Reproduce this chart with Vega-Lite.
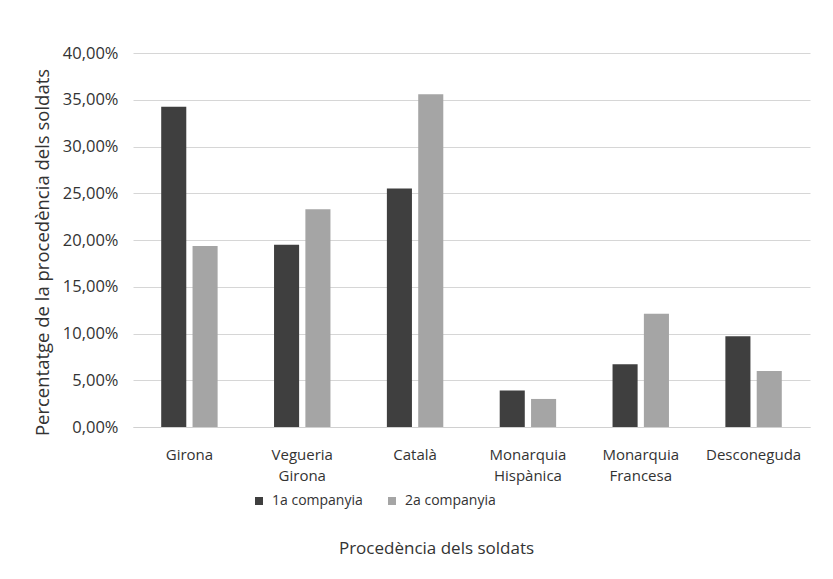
{
  "$schema": "https://vega.github.io/schema/vega-lite/v6.json",
  "autosize": {"type": "none"},
  "width": 677,
  "height": 374,
  "padding": {"left": 133, "top": 53, "right": 23, "bottom": 152},
  "background": "white",
  "config": {
    "font": "Open Sans",
    "view": {"stroke": null}
  },
  "data": {
    "values": [
      {"origen": "Girona", "companyia": "1a companyia", "pct": 0.3426},
      {"origen": "Girona", "companyia": "2a companyia", "pct": 0.1936},
      {"origen": "Vegueria Girona", "companyia": "1a companyia", "pct": 0.1950},
      {"origen": "Vegueria Girona", "companyia": "2a companyia", "pct": 0.2330},
      {"origen": "Català", "companyia": "1a companyia", "pct": 0.2550},
      {"origen": "Català", "companyia": "2a companyia", "pct": 0.3560},
      {"origen": "Monarquia Hispànica", "companyia": "1a companyia", "pct": 0.0390},
      {"origen": "Monarquia Hispànica", "companyia": "2a companyia", "pct": 0.0300},
      {"origen": "Monarquia Francesa", "companyia": "1a companyia", "pct": 0.0670},
      {"origen": "Monarquia Francesa", "companyia": "2a companyia", "pct": 0.1210},
      {"origen": "Desconeguda", "companyia": "1a companyia", "pct": 0.0970},
      {"origen": "Desconeguda", "companyia": "2a companyia", "pct": 0.0600}
    ]
  },
  "mark": {"type": "bar"},
  "encoding": {
    "x": {
      "field": "origen",
      "type": "nominal",
      "sort": null,
      "scale": {"paddingInner": 0.5, "paddingOuter": 0.25},
      "axis": {
        "title": "Procedència dels soldats",
        "titleFontSize": 17,
        "titleFontWeight": "normal",
        "titleColor": "#333333",
        "titleX": 303,
        "titleY": 113,
        "titleAnchor": "middle",
        "titleAlign": "center",
        "labelAngle": 0,
        "labelFontSize": 15,
        "labelColor": "#333333",
        "labelPadding": 20,
        "labelLineHeight": 21,
        "labelExpr": "split(datum.label, ' ')",
        "ticks": false,
        "domainColor": "#d0d0d0",
        "domainWidth": 1,
        "grid": false
      }
    },
    "xOffset": {
      "field": "companyia",
      "type": "nominal",
      "scale": {"paddingInner": 0.2, "paddingOuter": 0}
    },
    "y": {
      "field": "pct",
      "type": "quantitative",
      "scale": {"domain": [0, 0.4], "nice": false},
      "axis": {
        "title": "Percentatge de la procedència dels soldats",
        "titleFontSize": 18.5,
        "titleFontWeight": "normal",
        "titleColor": "#333333",
        "titleX": -91,
        "titleY": 199,
        "titleAngle": -90,
        "titleAlign": "center",
        "titleBaseline": "middle",
        "values": [0, 0.05, 0.1, 0.15, 0.2, 0.25, 0.3, 0.35, 0.4],
        "labelExpr": "replace(format(datum.value, '.2%'), '.', ',')",
        "labelFontSize": 16.5,
        "labelColor": "#333333",
        "labelPadding": 15,
        "ticks": false,
        "domain": false,
        "gridColor": "#d6d6d6",
        "gridWidth": 1
      }
    },
    "color": {
      "field": "companyia",
      "type": "nominal",
      "scale": {"domain": ["1a companyia", "2a companyia"], "range": ["#3f3f3f", "#a5a5a5"]},
      "legend": {
        "title": null,
        "orient": "none",
        "direction": "horizontal",
        "legendX": 119,
        "legendY": 441,
        "symbolType": "square",
        "symbolSize": 64,
        "labelFontSize": 14,
        "labelColor": "#333333",
        "columnPadding": 22,
        "labelOffset": 6
      }
    }
  }
}
